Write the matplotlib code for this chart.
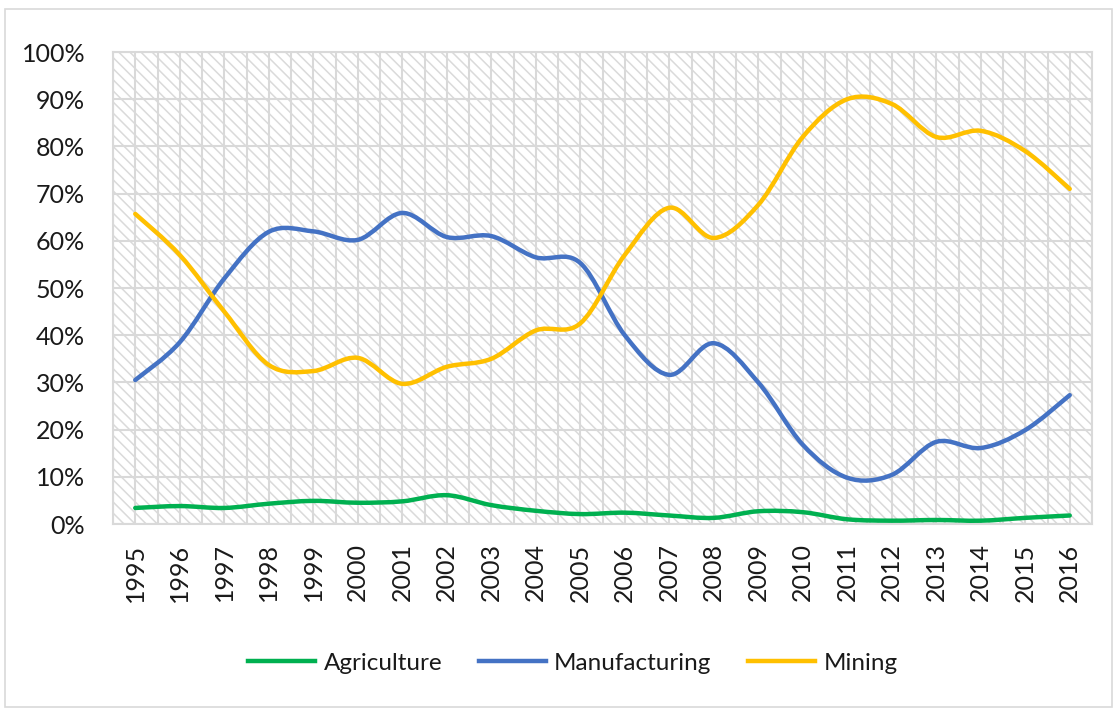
import numpy as np
import matplotlib
matplotlib.use('Agg')
import matplotlib.pyplot as plt
from matplotlib.path import Path
from matplotlib.patches import PathPatch, Rectangle
from matplotlib.lines import Line2D
from matplotlib.ticker import FixedLocator, FuncFormatter

years = ['1995', '1996', '1997', '1998', '1999', '2000', '2001', '2002', '2003', '2004', '2005',
         '2006', '2007', '2008', '2009', '2010', '2011', '2012', '2013', '2014', '2015', '2016']
agriculture = [3.4, 3.8, 3.4, 4.3, 4.9, 4.5, 4.8, 6.1, 4.0, 2.8, 2.1,
               2.4, 1.8, 1.3, 2.7, 2.5, 1.0, 0.7, 0.85, 0.7, 1.3, 1.8]
manufacturing = [30.5, 38.5, 52.0, 61.9, 62.0, 60.2, 65.9, 60.8, 61.0, 56.5, 55.3,
                 40.0, 31.6, 38.3, 30.0, 16.8, 9.8, 10.4, 17.4, 16.1, 19.9, 27.3]
mining = [65.7, 57.0, 45.0, 33.7, 32.4, 35.2, 29.7, 33.3, 35.0, 41.0, 42.5,
          57.0, 67.0, 60.6, 67.6, 82.0, 90.0, 89.0, 82.0, 83.3, 79.0, 71.0]
series_names = ['Agriculture', 'Manufacturing', 'Mining']
series_colors = ['#00B050', '#4472C4', '#FFC000']

plt.rcParams['font.family'] = ['Lato', 'DejaVu Sans']

W, H = 1118, 713
fig = plt.figure(figsize=(W / 100, H / 100), dpi=100)

# figure border
fig.patches.append(Rectangle((5 / W, 1 - 707 / H), (1112 - 5) / W, (707 - 9) / H,
                             transform=fig.transFigure, fill=False,
                             edgecolor='#d9d9d9', lw=1.2))

left, right, top, bottom = 113, 1092, 52, 524
ax = fig.add_axes([left / W, 1 - bottom / H, (right - left) / W, (bottom - top) / H])

x = np.arange(len(years))
ax.set_xlim(-0.5, len(years) - 0.5)
ax.set_ylim(0, 100)

# hatched background
ax.patch.set_facecolor('white')
plt.rcParams['hatch.linewidth'] = 1.1
bg = Rectangle((0, 0), 1, 1, transform=ax.transAxes, facecolor='white',
               edgecolor='#dadada', hatch='\\\\\\', lw=0, zorder=0)
ax.add_patch(bg)

# gridlines
for gx in np.arange(-0.5, len(years), 0.5):
    ax.axvline(gx, color='#d9d9d9', lw=1.5, zorder=1)
for gy in range(0, 101, 10):
    ax.axhline(gy, color='#d9d9d9', lw=1.5, zorder=1)


def smooth_path(xs, ys):
    pts = np.column_stack([xs, ys]).astype(float)
    n = len(pts)
    verts = [pts[0]]
    codes = [Path.MOVETO]
    for i in range(n - 1):
        p0 = pts[i - 1] if i > 0 else pts[i]
        p1 = pts[i]
        p2 = pts[i + 1]
        p3 = pts[i + 2] if i + 2 < n else pts[i + 1]
        c1 = p1 + (p2 - p0) / 6.0
        c2 = p2 - (p3 - p1) / 6.0
        verts += [c1, c2, p2]
        codes += [Path.CURVE4] * 3
    return Path(verts, codes)


handles = []
for vals, name, col in zip([agriculture, manufacturing, mining], series_names, series_colors):
    pp = PathPatch(smooth_path(x, vals), facecolor='none', edgecolor=col, lw=3.2,
                   capstyle='round', joinstyle='round', zorder=3)
    ax.add_patch(pp)
    handles.append(Line2D([], [], color=col, lw=3.2, label=name))

ax.xaxis.set_major_locator(FixedLocator(x))
ax.set_xticklabels(years, rotation=90)
ax.yaxis.set_major_locator(FixedLocator(range(0, 101, 10)))
ax.yaxis.set_major_formatter(FuncFormatter(lambda v, p: f'{v:.0f}%'))
ax.tick_params(axis='both', length=0, labelsize=18, labelcolor='#1a1a1a')
ax.tick_params(axis='y', pad=20)
ax.tick_params(axis='x', pad=14)

for s in ax.spines.values():
    s.set_color('#d9d9d9')
    s.set_linewidth(1.5)

fig.legend(handles=handles, loc='center', bbox_to_anchor=(573 / W, 1 - 663 / H),
           ncol=3, frameon=False, fontsize=17.5, handlelength=2.75, handletextpad=0.35,
           columnspacing=1.5, labelcolor='#1a1a1a')

fig.savefig('out.png', dpi=100)
